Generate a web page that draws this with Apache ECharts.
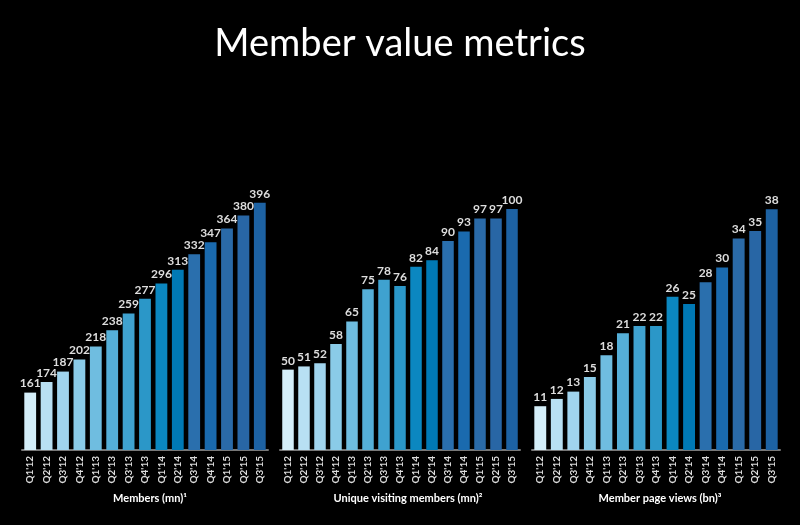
<!DOCTYPE html>
<html><head><meta charset="utf-8">
<script src="https://cdn.jsdelivr.net/npm/echarts@6/dist/echarts.min.js"></script>
<style>html,body{margin:0;background:#000}#c{width:800px;height:525px}</style>
</head><body><div id="c"></div>
<script>
const quarters = ["Q1'12","Q2'12","Q3'12","Q4'12","Q1'13","Q2'13","Q3'13","Q4'13","Q1'14","Q2'14","Q3'14","Q4'14","Q1'15","Q2'15","Q3'15"]
const members = [161,174,187,202,218,238,259,277,296,313,332,347,364,380,396]
const visitors = [50,51,52,58,65,75,78,76,82,84,90,93,97,97,100]
const pageViews = [11,12,13,15,18,21,22,22,26,25,28,30,34,35,38]
const titles = ['Members (mn)\u00b9','Unique visiting members (mn)\u00b2','Member page views (bn)\u00b3']
const barColors = ['#d4eef9','#b8e0f3','#a0d4ee','#8acbe8','#6fbde0','#55afd8','#3fa2d0','#2b97c8','#0b87c0','#0079b5','#2a6fad','#1a6aae','#2a6aa8','#2866a5','#1d62a3']

const panels = [
  { data: members, min: 90, max: 424, left: 22, right: 532 },
  { data: visitors, min: 25, max: 109, left: 280, right: 280 },
  { data: pageViews, min: 5, max: 42, left: 532, right: 20 },
]

const chart = echarts.init(document.getElementById('c'))
chart.setOption({
  backgroundColor: '#000',
  title: [{ text: 'Member value metrics', left: 'center', top: 20,
    textStyle: { color: '#fff', fontSize: 38, fontWeight: 'normal', fontFamily: 'Lato' } }]
    .concat(panels.map((p, i) => ({
      text: titles[i], top: 488, left: p.left + 123, textAlign: 'center',
      textStyle: { color: '#fff', fontSize: 11, fontWeight: 'bold', fontFamily: 'Lato' }
    }))),
  grid: panels.map(p => ({ left: p.left, right: p.right, top: 180, bottom: 75 })),
  xAxis: panels.map((p, i) => ({
    type: 'category', gridIndex: i, data: quarters,
    axisLine: { lineStyle: { color: '#777', width: 2 } }, axisTick: { show: false },
    axisLabel: { rotate: 90, color: '#ddd', fontSize: 10, fontWeight: 'bold', fontFamily: 'Lato', interval: 0, margin: 6 }
  })),
  yAxis: panels.map((p, i) => ({
    type: 'value', gridIndex: i, min: p.min, max: p.max, show: false
  })),
  series: panels.map((p, i) => ({
    type: 'bar', xAxisIndex: i, yAxisIndex: i, barCategoryGap: '28%',
    data: p.data.map((v, j) => ({ value: v, itemStyle: { color: barColors[j] } })),
    label: { show: true, position: 'top', color: '#ddd', fontSize: 12, fontWeight: 'bold', fontFamily: 'Lato', distance: 3 }
  }))
})
</script></body></html>
